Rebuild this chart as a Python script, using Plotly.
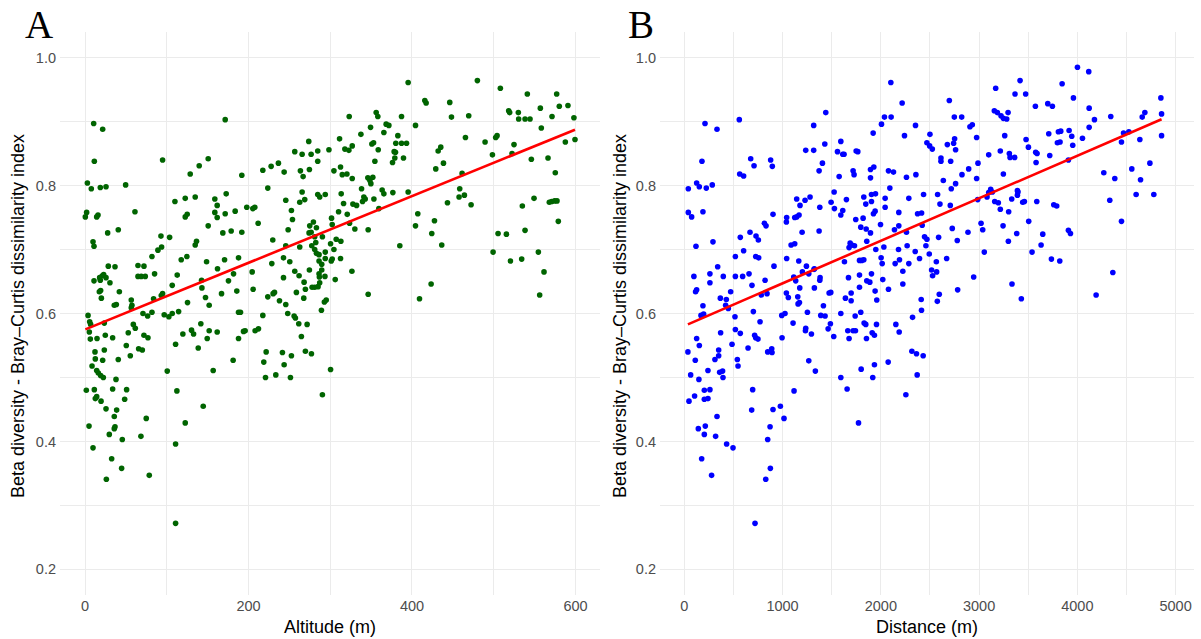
import plotly.graph_objects as go

# ---------------- Panel A: Altitude ----------------
alt_x_top_left = [171.5,10.6,21.6,273.7,256.6,265.6,276.6,284.7,11.4,94.9,
150.7,284.7,139.7,128.7,191.8,217.5,227.7,236.6,243.6,263.5,
266.8,274.5,2.9,7.7,18.7,25.7,49.7,223.6,265.6,284.7,
287.1,172.7,158.8,161.7,134.8,122.6,110.0,245.6,262.7,268.8,
2.0,0.4,14.3,15.9,61.1,158.8,161.7,171.5,183.7,197.9,
205.3,207.7,122.6,125.0,252.5,253.8,211.8,274.9,279.4,283.1,
274.1,150.7,27.7,40.7,168.6,178.8,191.8,248.5,276.6,281.0,
290.4,92.9,103.5,229.7,9.8,11.0,136.4,134.8,245.6,262.7,
277.4,282.3,93.7,89.2,81.9,117.7,124.6,281.0,283.1,286.3,
242.8,250.5,286.3,289.6,148.7,170.7,187.8,162.1,228.5,274.5,
286.3,289.6,28.5,36.7,64.8,72.1,22.8,21.2,17.9,25.7,
11.0,18.7,30.5,64.8,68.8,73.7,85.1,112.8,204.5,181.7,
175.5,142.6,143.0,106.7,256.6,261.9,268.0,286.7,242.8,19.1,
17.5,42.0,20.0,205.7,185.7,167.0,147.4,94.9,93.3,83.9,
269.6,277.8,281.0,285.1,287.1,231.8,230.1,223.6,237.9,258.6,
267.6,56.6,57.4,35.8,38.3,125.4,151.9,245.6,292.8]
alt_y_top_left = [0.903,0.897,0.888,0.869,0.853,0.849,0.849,0.854,0.838,0.840,
0.842,0.838,0.831,0.818,0.816,0.824,0.830,0.835,0.821,0.823,
0.814,0.825,0.804,0.795,0.797,0.798,0.801,0.796,0.790,0.786,
0.782,0.787,0.779,0.769,0.782,0.780,0.775,0.777,0.774,0.778,
0.758,0.751,0.751,0.754,0.759,0.758,0.750,0.756,0.760,0.766,
0.764,0.766,0.751,0.755,0.761,0.747,0.741,0.737,0.743,0.734,
0.726,0.737,0.726,0.731,0.726,0.729,0.727,0.731,0.727,0.720,
0.720,0.721,0.719,0.715,0.712,0.705,0.713,0.707,0.706,0.704,
0.706,0.711,0.704,0.699,0.689,0.684,0.689,0.700,0.694,0.692,
0.687,0.681,0.682,0.677,0.681,0.684,0.687,0.670,0.678,0.668,
0.662,0.668,0.674,0.673,0.675,0.674,0.661,0.659,0.656,0.656,
0.651,0.652,0.648,0.658,0.658,0.658,0.662,0.660,0.665,0.662,
0.651,0.652,0.640,0.644,0.666,0.659,0.649,0.657,0.656,0.636,
0.634,0.634,0.624,0.638,0.635,0.631,0.625,0.631,0.628,0.623,
0.638,0.641,0.641,0.642,0.648,0.633,0.631,0.626,0.620,0.633,
0.624,0.621,0.613,0.613,0.614,0.617,0.613,0.614,0.618]

alt_x_bottom_left = [289.2,56.6,3.7,70.9,76.6,81.9,96.9,102.6,106.7,114.5,187.8,
190.2,217.5,248.0,255.8,257.4,261.5,271.7,5.7,6.9,23.6,
59.1,61.5,5.3,52.9,72.1,77.0,65.6,70.1,6.5,14.7,
24.8,33.8,119.7,130.3,132.8,141.7,151.9,161.7,149.5,138.5,
110.8,187.8,193.9,195.9,208.1,212.2,264.7,50.5,23.6,12.2,
12.6,21.6,40.7,55.4,8.6,14.3,16.3,19.1,22.4,37.9,
100.6,156.8,181.2,221.6,241.5,252.5,269.6,277.0,218.7,243.6,
220.8,233.4,251.3,1.6,11.4,14.3,12.6,19.6,33.8,50.9,
48.5,112.4,25.7,38.7,35.8,74.9,144.6,122.6,4.9,36.7,
35.8,29.7,45.6,68.4,110.8,9.8,32.6,44.8,26.1,78.6,
110.8,290.4]
alt_y_bottom_left = [0.605,0.609,0.597,0.600,0.596,0.602,0.598,0.595,0.600,0.603,0.602,
0.602,0.597,0.600,0.596,0.593,0.584,0.583,0.587,0.583,0.585,
0.583,0.577,0.571,0.570,0.566,0.562,0.545,0.543,0.560,0.561,
0.566,0.562,0.568,0.574,0.568,0.584,0.573,0.571,0.561,0.546,
0.552,0.561,0.572,0.573,0.573,0.576,0.564,0.550,0.543,0.540,
0.529,0.527,0.528,0.534,0.518,0.511,0.507,0.503,0.500,0.497,
0.510,0.511,0.527,0.540,0.539,0.534,0.541,0.537,0.524,0.520,
0.500,0.504,0.500,0.480,0.481,0.470,0.467,0.463,0.482,0.481,
0.466,0.479,0.451,0.449,0.439,0.436,0.455,0.429,0.424,0.423,
0.420,0.411,0.403,0.408,0.396,0.390,0.373,0.358,0.341,0.347,
0.272,0.473]

alt_x_right = [395.3,480.0,508.1,541.1,577.0,415.7,417.3,446.2,580.2,590.8,
356.2,358.2,323.2,387.2,448.3,469.4,518.3,519.5,530.1,530.5,
538.3,544.4,557.0,571.3,598.1,368.4,371.7,349.3,404.3,365.6,
337.5,382.7,558.2,311.4,317.9,322.8,326.9,298.4,350.9,353.0,
358.7,380.2,387.2,393.3,378.2,379.8,379.0,389.6,376.2,354.6,
465.4,489.4,502.4,504.1,524.8,498.4,522.4,587.6,599.4,432.0,
435.2,429.1,438.5,546.0,566.4,575.3,304.5,312.6,314.7,320.4,
326.9,346.0,348.5,349.7,352.1,338.3,363.5,365.6,376.6,395.3,
313.4,293.9,341.1,342.8,339.5,353.4,316.3,327.7,332.2,359.5,
461.3,458.4,457.6,464.1,472.3,443.4,310.2,320.8,301.6,302.4,
323.6,330.1,346.4,404.3,407.1,427.5,424.2,436.4,385.1,535.0,
549.3,568.0,570.9,574.5,577.4,579.0,538.3,505.3,515.5,307.3,
313.0,300.4,304.5,293.9,302.4,301.2,312.6,293.9,326.5,293.5,
306.1,499.2,520.4,534.2,554.6,561.5,556.2,423.4,409.2,346.4,
295.1,300.4]
alt_y_right = [0.961,0.964,0.952,0.943,0.943,0.933,0.929,0.930,0.924,0.925,
0.914,0.908,0.908,0.908,0.907,0.909,0.917,0.914,0.914,0.904,
0.904,0.904,0.921,0.908,0.906,0.896,0.894,0.891,0.894,0.883,
0.880,0.878,0.890,0.873,0.857,0.855,0.862,0.856,0.865,0.867,
0.856,0.866,0.866,0.866,0.853,0.852,0.843,0.843,0.836,0.838,
0.875,0.868,0.875,0.878,0.864,0.848,0.850,0.868,0.872,0.854,
0.860,0.826,0.835,0.841,0.843,0.820,0.823,0.829,0.817,0.818,
0.811,0.812,0.808,0.803,0.813,0.795,0.793,0.787,0.789,0.790,
0.787,0.786,0.782,0.779,0.775,0.779,0.772,0.771,0.769,0.764,
0.819,0.795,0.782,0.785,0.770,0.773,0.759,0.755,0.749,0.739,
0.741,0.732,0.731,0.737,0.756,0.745,0.725,0.707,0.706,0.768,
0.780,0.774,0.775,0.776,0.776,0.744,0.730,0.725,0.724,0.716,
0.713,0.709,0.700,0.696,0.685,0.682,0.686,0.686,0.666,0.658,
0.653,0.696,0.682,0.685,0.696,0.665,0.629,0.646,0.623,0.630,
0.621,0.5125]

# fitted linear trend
alt_fit_intercept = 0.575
alt_fit_slope = 0.000521

# ---------------- Panel B: Distance ----------------
dist_x_left = [2102,211,333,560,1440,1317,2037,2105,2007,2217,
2353,1922,2241,1593,1430,1236,1317,1559,1613,1626,
1749,1766,180,676,710,879,896,1406,1372,1718,
1728,1576,1895,1929,1895,2078,2129,2261,2357,564,
604,41,126,153,224,285,2092,1525,1144,1229,
1280,1178,1379,1494,1650,1528,1613,1593,1827,1905,
1946,1847,1905,2044,2044,1925,1942,2285,2435,41,
75,190,903,1042,1039,1124,1144,1168,1745,1820,
1796,1851,1895,1997,2183,2374,2421,2183,2139,2261,
815,832,292,119,570,669,730,754,1199,1372,
1087,1124,1857,1688,1705,1677,1732,1949,2031,2180,
2268,2445,604,520,727,757,1042,1165,1243,1324,
913,340,1783,1806,1827,1630,2003,2014,2190,2146,
2285,2350,2394,98,261,397,520,594,659,261,
822,689,1114,1134,1202,1267,1321,1382,1379,1671,
1783,1905,1857,1888,2020,2224,2224,126,115,472,
367,428,784,842,1039,1059,1155,1175,1324,1474,
1491,1640,1698,1698,1783,1942,1959,2078,2411,190,
421,1158,1172,1416]
dist_y_left = [0.961,0.897,0.888,0.903,0.914,0.894,0.907,0.907,0.896,0.929,
0.894,0.882,0.878,0.869,0.865,0.855,0.855,0.853,0.849,0.849,
0.854,0.853,0.838,0.842,0.831,0.840,0.830,0.835,0.823,0.823,
0.817,0.814,0.825,0.829,0.812,0.823,0.821,0.813,0.817,0.818,
0.815,0.795,0.804,0.798,0.796,0.801,0.796,0.790,0.779,0.777,
0.782,0.769,0.766,0.774,0.778,0.764,0.761,0.754,0.782,0.786,
0.787,0.771,0.775,0.780,0.766,0.756,0.760,0.780,0.786,0.758,
0.751,0.759,0.755,0.750,0.743,0.750,0.751,0.754,0.747,0.749,
0.735,0.732,0.726,0.739,0.758,0.756,0.738,0.737,0.731,0.727,
0.741,0.737,0.712,0.705,0.719,0.727,0.721,0.715,0.727,0.729,
0.707,0.709,0.713,0.710,0.707,0.703,0.706,0.700,0.704,0.700,
0.706,0.720,0.698,0.689,0.689,0.687,0.686,0.682,0.674,0.670,
0.674,0.673,0.683,0.683,0.684,0.681,0.687,0.678,0.684,0.678,
0.678,0.697,0.686,0.658,0.662,0.658,0.658,0.658,0.662,0.648,
0.652,0.644,0.657,0.651,0.665,0.662,0.669,0.656,0.652,0.656,
0.660,0.662,0.651,0.649,0.653,0.666,0.646,0.637,0.634,0.634,
0.624,0.622,0.629,0.631,0.632,0.625,0.626,0.640,0.640,0.632,
0.633,0.624,0.632,0.620,0.641,0.635,0.621,0.638,0.622,0.612,
0.613,0.615,0.617,0.612]

dist_x_right = [4001,4116,3417,3845,3169,2697,3366,3474,3960,4850,
3573,3699,3746,4120,3155,3186,3223,3295,3247,3281,
2748,2823,4174,4340,4660,4687,4857,2907,2931,2500,
3261,2975,3709,3807,3831,3916,3943,4120,4052,4470,
4524,4449,4636,4857,2469,2497,2524,2677,2741,2751,
2761,3797,3824,3953,3478,3502,3216,2612,2612,2711,
3098,3308,3315,3362,3576,3590,3719,3580,3909,2989,
2894,2826,2761,2636,2717,2975,3247,4269,4381,4554,
4738,4643,2578,2602,2707,3098,3118,3081,3135,3159,
3196,3332,3390,3390,3396,3444,3461,3587,3760,3790,
2986,3216,3301,4598,4778,4330,4449,2415,3020,3037,
3244,3505,3383,3648,3909,3930,2727,2887,2778,2588,
2469,2459,2493,2670,2565,2517,2568,2527,3053,3298,
3539,3631,3736,3821,2945,2782,3335,3430,4361,4191,
2595,2575]
dist_y_right = [0.985,0.978,0.964,0.959,0.952,0.933,0.943,0.943,0.937,0.937,
0.924,0.928,0.924,0.921,0.917,0.914,0.909,0.914,0.905,0.904,
0.907,0.907,0.903,0.908,0.907,0.914,0.912,0.892,0.895,0.880,
0.878,0.875,0.881,0.884,0.885,0.886,0.877,0.891,0.874,0.882,
0.884,0.868,0.872,0.878,0.867,0.862,0.857,0.864,0.866,0.873,
0.856,0.867,0.868,0.863,0.872,0.860,0.854,0.843,0.838,0.838,
0.848,0.850,0.844,0.844,0.852,0.850,0.847,0.836,0.840,0.835,
0.826,0.817,0.803,0.808,0.795,0.811,0.818,0.820,0.811,0.826,
0.835,0.809,0.786,0.771,0.769,0.789,0.794,0.782,0.790,0.775,
0.773,0.779,0.792,0.785,0.790,0.774,0.775,0.775,0.770,0.768,
0.778,0.763,0.759,0.786,0.786,0.777,0.744,0.757,0.741,0.731,
0.737,0.744,0.725,0.724,0.730,0.725,0.733,0.727,0.714,0.719,
0.716,0.706,0.693,0.686,0.681,0.668,0.665,0.659,0.696,0.713,
0.696,0.707,0.685,0.682,0.657,0.637,0.646,0.623,0.664,0.629,
0.630,0.619]

dist_x_bottom = [170,197,448,516,703,771,992,1025,1253,1389,
1433,1593,1739,1796,2323,2414,520,570,370,126,
153,37,112,312,350,350,486,540,547,649,
716,727,750,849,890,893,995,1107,1236,1233,
1294,1267,1334,1464,1487,1521,1664,1677,1718,1742,
1830,1847,1854,1912,1935,1956,2153,2187,65,149,
241,360,390,394,1593,1800,1935,1918,2075,2316,
2363,2431,2370,48,105,204,204,241,261,696,
686,903,978,1015,1117,1657,1773,2255,333,143,
214,204,319,431,496,873,849,177,278,876,
829,720]
dist_y_bottom = [0.597,0.599,0.608,0.595,0.603,0.587,0.597,0.600,0.602,0.597,
0.596,0.600,0.596,0.602,0.594,0.605,0.575,0.569,0.570,0.561,
0.550,0.540,0.527,0.528,0.534,0.543,0.552,0.528,0.518,0.546,
0.566,0.562,0.560,0.540,0.545,0.539,0.562,0.585,0.577,0.573,
0.568,0.526,0.510,0.576,0.584,0.564,0.573,0.561,0.573,0.573,
0.585,0.583,0.561,0.570,0.566,0.583,0.583,0.571,0.504,0.497,
0.511,0.508,0.510,0.500,0.500,0.513,0.520,0.500,0.524,0.541,
0.537,0.534,0.504,0.463,0.471,0.480,0.466,0.467,0.481,0.481,
0.449,0.450,0.455,0.436,0.479,0.482,0.429,0.473,0.439,0.420,
0.424,0.411,0.408,0.396,0.390,0.423,0.403,0.373,0.347,0.358,
0.341,0.272]

dist_fit_intercept = 0.5806
dist_fit_slope = 0.0000665

y_ticks = [0.2, 0.4, 0.6, 0.8, 1.0]
alt_ticks = [0, 200, 400, 600]
dist_ticks = [0, 1000, 2000, 3000, 4000, 5000]

# ---------------- assemble ----------------
alt_x = alt_x_top_left + alt_x_bottom_left + alt_x_right
alt_y = alt_y_top_left + alt_y_bottom_left + alt_y_right
dist_x = dist_x_left + dist_x_right + dist_x_bottom
dist_y = dist_y_left + dist_y_right + dist_y_bottom

alt_line_x = [min(alt_x), max(alt_x)]
alt_line_y = [alt_fit_intercept + alt_fit_slope * v for v in alt_line_x]
dist_line_x = [min(dist_x), max(dist_x)]
dist_line_y = [dist_fit_intercept + dist_fit_slope * v for v in dist_line_x]

FONT = "Liberation Sans, Arial, Helvetica, sans-serif"
GRID = "#EBEBEB"
TICKCOL = "#4D4D4D"

fig = go.Figure()
fig.add_trace(go.Scatter(x=alt_x, y=alt_y, mode="markers",
                         marker=dict(color="#006400", size=5.6, line=dict(width=0)),
                         xaxis="x", yaxis="y", hoverinfo="x+y"))
fig.add_trace(go.Scatter(x=alt_line_x, y=alt_line_y, mode="lines",
                         line=dict(color="#FF0000", width=2.6),
                         xaxis="x", yaxis="y"))
fig.add_trace(go.Scatter(x=dist_x, y=dist_y, mode="markers",
                         marker=dict(color="#0000FF", size=5.6, line=dict(width=0)),
                         xaxis="x2", yaxis="y2", hoverinfo="x+y"))
fig.add_trace(go.Scatter(x=dist_line_x, y=dist_line_y, mode="lines",
                         line=dict(color="#FF0000", width=2.6),
                         xaxis="x2", yaxis="y2"))

# the page body margin is removed (see post_script), so the figure fills the window
W, H = 1201, 639
ML, MR, MT, MB = 60, 7, 32, 44
PW = W - ML - MR
PH = H - MT - MB


def px_to_paper_x(px):
    return (px - ML) / PW


def py_to_paper_y(py):
    return (H - MB - py) / PH


common_x = dict(showgrid=True, gridcolor=GRID, gridwidth=1.1, zeroline=False,
                showline=False, ticks="", tickfont=dict(family=FONT, size=14.5, color=TICKCOL),
                ticklabelstandoff=0)
common_y = dict(showgrid=True, gridcolor=GRID, gridwidth=1.1, zeroline=False,
                showline=False, ticks="", tickfont=dict(family=FONT, size=14.5, color=TICKCOL),
                ticklabelstandoff=3,
                range=[0.16, 1.04], tickmode="array", tickvals=y_ticks,
                ticktext=["%.1f" % v for v in y_ticks],
                minor=dict(tickmode="array", tickvals=[0.3, 0.5, 0.7, 0.9], showgrid=True,
                           gridcolor=GRID, gridwidth=0.6, ticks=""))

fig.update_layout(
    width=W, height=H,
    margin=dict(l=ML, r=MR, t=MT, b=MB, pad=0),
    paper_bgcolor="white", plot_bgcolor="white",
    showlegend=False,
    font=dict(family=FONT),
    xaxis=dict(domain=[0, px_to_paper_x(600)], range=[-30.6, 630], anchor="y",
               tickmode="array", tickvals=alt_ticks, ticktext=[str(v) for v in alt_ticks],
               minor=dict(tickmode="array", tickvals=[100, 300, 500], showgrid=True,
                          gridcolor=GRID, gridwidth=0.6, ticks=""),
               **common_x),
    yaxis=dict(domain=[0, 1], anchor="x", **common_y),
    xaxis2=dict(domain=[px_to_paper_x(660), 1], range=[-247, 5187], anchor="y2",
                tickmode="array", tickvals=dist_ticks, ticktext=[str(v) for v in dist_ticks],
                minor=dict(tickmode="array", tickvals=[500, 1500, 2500, 3500, 4500], showgrid=True,
                           gridcolor=GRID, gridwidth=0.6, ticks=""),
                **common_x),
    yaxis2=dict(domain=[0, 1], anchor="x2", **common_y),
)

title_font = dict(family=FONT, size=18, color="black")
ytitle = "Beta diversity - Bray\u2013Curtis dissimilarity index"
serif = dict(family="Liberation Serif, Times New Roman, serif", size=39, color="black")
annotations = [
    dict(text="Altitude (m)", x=px_to_paper_x(330), y=py_to_paper_y(627), xref="paper", yref="paper",
         showarrow=False, font=title_font, xanchor="center", yanchor="middle"),
    dict(text="Distance (m)", x=px_to_paper_x(927), y=py_to_paper_y(627), xref="paper", yref="paper",
         showarrow=False, font=title_font, xanchor="center", yanchor="middle"),
    dict(text=ytitle, x=px_to_paper_x(18), y=py_to_paper_y(316), xref="paper", yref="paper",
         showarrow=False, font=title_font, textangle=-90, xanchor="center", yanchor="middle"),
    dict(text=ytitle, x=px_to_paper_x(620), y=py_to_paper_y(316), xref="paper", yref="paper",
         showarrow=False, font=title_font, textangle=-90, xanchor="center", yanchor="middle"),
    dict(text="A", x=px_to_paper_x(39), y=py_to_paper_y(24), xref="paper", yref="paper",
         showarrow=False, font=serif, xanchor="center", yanchor="middle"),
    dict(text="B", x=px_to_paper_x(641), y=py_to_paper_y(24), xref="paper", yref="paper",
         showarrow=False, font=serif, xanchor="center", yanchor="middle"),
]
fig.update_layout(annotations=annotations)

fig.write_html("out.html", config={"displayModeBar": False},
               post_script="document.body.style.margin='0';")
